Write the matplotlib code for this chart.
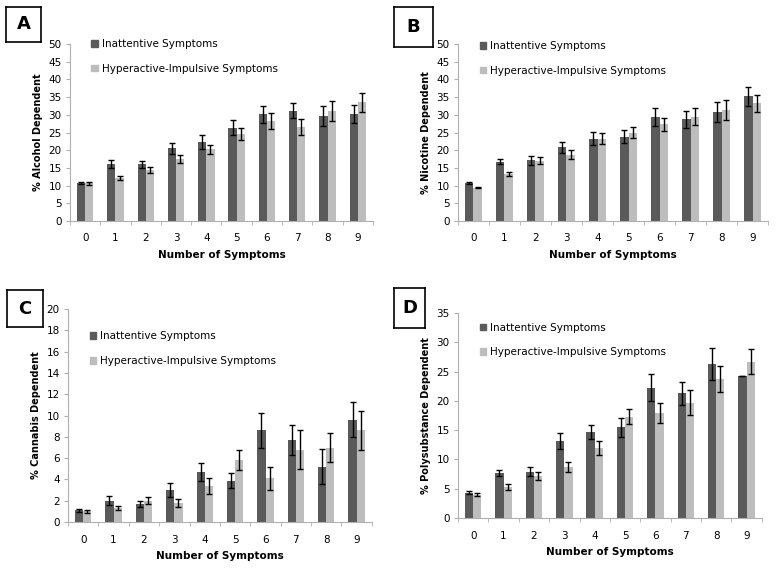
import numpy as np
import matplotlib
matplotlib.use("Agg")
import matplotlib.pyplot as plt
from matplotlib.patches import Patch

# number of symptoms on the x axis
symptoms = list(range(10))

# A - alcohol
alc_inatt = [10.8, 16.0, 16.0, 20.5, 22.3, 26.4, 30.2, 31.2, 29.7, 30.2]
alc_inatt_err = [0.3, 1.1, 1.0, 1.6, 1.9, 2.0, 2.4, 2.2, 2.8, 2.6]
alc_hyper = [10.6, 12.1, 14.5, 17.5, 20.3, 24.6, 28.3, 26.5, 31.0, 33.5]
alc_hyper_err = [0.4, 0.6, 0.8, 1.1, 1.3, 1.7, 2.3, 2.2, 2.8, 2.7]

# B - nicotine
nic_inatt = [10.8, 16.8, 17.2, 20.8, 23.3, 23.8, 29.3, 28.8, 30.8, 35.2]
nic_inatt_err = [0.3, 0.8, 1.3, 1.5, 1.8, 1.9, 2.5, 2.4, 2.8, 2.7]
nic_hyper = [9.4, 13.3, 17.0, 18.7, 23.3, 25.0, 27.3, 29.4, 31.3, 33.2]
nic_hyper_err = [0.2, 0.6, 1.0, 1.3, 1.5, 1.6, 1.8, 2.4, 2.8, 2.4]

# C - cannabis
can_inatt = [1.1, 2.0, 1.7, 3.0, 4.7, 3.9, 8.6, 7.7, 5.2, 9.6]
can_inatt_err = [0.15, 0.4, 0.3, 0.65, 0.8, 0.75, 1.6, 1.4, 1.65, 1.65]
can_hyper = [1.0, 1.3, 2.0, 1.8, 3.4, 5.8, 4.1, 6.8, 7.0, 8.6]
can_hyper_err = [0.15, 0.2, 0.35, 0.35, 0.75, 0.95, 1.05, 1.8, 1.35, 1.85]

# D - polysubstance
poly_inatt = [4.3, 7.7, 7.9, 13.2, 14.7, 15.5, 22.3, 21.3, 26.3, 24.3]
poly_inatt_err = [0.25, 0.55, 0.75, 1.4, 1.2, 1.65, 2.3, 2.0, 2.8, 0.0]
poly_hyper = [4.0, 5.3, 7.2, 8.7, 12.0, 17.3, 17.9, 19.7, 23.7, 26.7]
poly_hyper_err = [0.2, 0.5, 0.65, 0.9, 1.2, 1.3, 1.7, 2.1, 2.2, 2.15]

dark = "#5a5a5a"
light = "#bdbdbd"
spine_col = "#b0b0b0"

fig = plt.figure(figsize=(7.81, 5.69), dpi=100)

panels = [
    ("A", [0.0896, 0.6116, 0.388, 0.311], alc_inatt, alc_inatt_err, alc_hyper, alc_hyper_err,
     "% Alcohol Dependent", 50, 5, [0.008, 0.926, 0.044, 0.062], (0.04, 1.08)),
    ("B", [0.5864, 0.6116, 0.397, 0.311], nic_inatt, nic_inatt_err, nic_hyper, nic_hyper_err,
     "% Nicotine Dependent", 50, 5, [0.505, 0.918, 0.049, 0.070], (0.04, 1.07)),
    ("C", [0.0871, 0.0826, 0.389, 0.374], can_inatt, can_inatt_err, can_hyper, can_hyper_err,
     "% Cannabis Dependent", 20, 2, [0.009, 0.425, 0.046, 0.065], (0.04, 0.94)),
    ("D", [0.5864, 0.0896, 0.389, 0.360], poly_inatt, poly_inatt_err, poly_hyper, poly_hyper_err,
     "% Polysubstance Dependent", 35, 5, [0.505, 0.424, 0.039, 0.070], (0.04, 1.0)),
]

x = np.arange(len(symptoms))
w = 0.27

for letter, pos, y1, e1, y2, e2, ylab, ymax, ystep, boxpos, legpos in panels:
    ax = fig.add_axes(pos)
    ax.bar(x - w / 2, y1, w, color=dark, yerr=e1, capsize=2.5,
           error_kw=dict(ecolor="black", elinewidth=1, capthick=1))
    ax.bar(x + w / 2, y2, w, color=light, yerr=e2, capsize=2.5,
           error_kw=dict(ecolor="black", elinewidth=1, capthick=1))
    ax.set_xlim(-0.5, 9.5)
    ax.set_ylim(0, ymax)
    ax.set_yticks(np.arange(0, ymax + 0.1, ystep))
    ax.set_xticks(x)
    ax.set_xticklabels([str(s) for s in symptoms])
    # category boundary ticks like excel
    ax.set_xticks(np.arange(-0.5, 10, 1), minor=True)
    ax.tick_params(axis="x", which="major", length=0, pad=9, labelsize=7.5)
    ax.tick_params(axis="x", which="minor", length=3, color=spine_col)
    ax.tick_params(axis="y", length=3, color=spine_col, labelsize=7.5, pad=3)
    for s in ["top", "right"]:
        ax.spines[s].set_visible(False)
    for s in ["left", "bottom"]:
        ax.spines[s].set_color(spine_col)
    ax.set_xlabel("Number of Symptoms", fontsize=7.5, fontweight="bold", labelpad=5)
    ax.set_ylabel(ylab, fontsize=7, fontweight="bold", labelpad=4)

    handles = [Patch(color=dark, label="Inattentive Symptoms"),
               Patch(color=light, label="Hyperactive-Impulsive Symptoms")]
    ax.legend(handles=handles, loc="upper left", bbox_to_anchor=legpos, frameon=False,
              fontsize=7.5, handlelength=0.6, handleheight=0.6, handletextpad=0.4,
              labelspacing=1.4)

    lab = fig.add_axes(boxpos)
    lab.set_xticks([])
    lab.set_yticks([])
    for s in lab.spines.values():
        s.set_linewidth(1.2)
    lab.text(0.5, 0.5, letter, ha="center", va="center", fontsize=13, fontweight="bold",
             transform=lab.transAxes)

fig.savefig("out.png", dpi=100)
